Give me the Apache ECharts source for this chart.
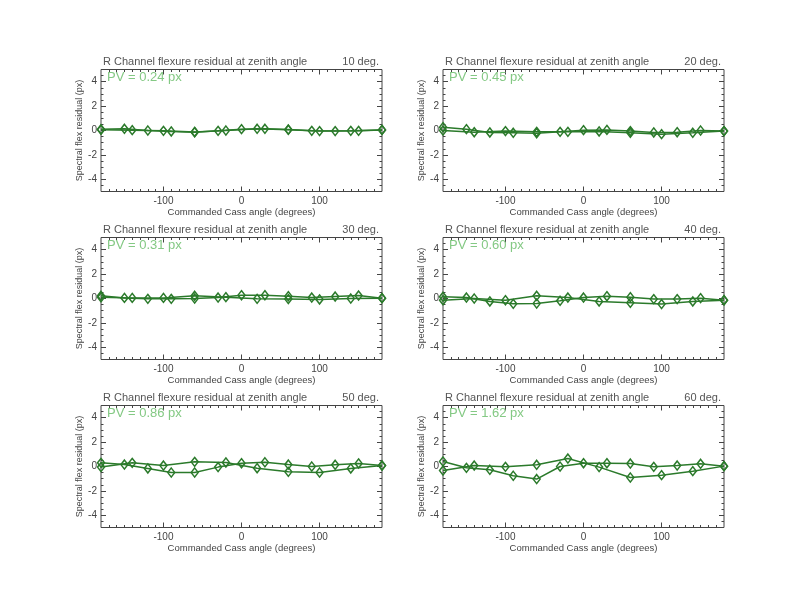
<!DOCTYPE html>
<html lang="en">
<head>
<meta charset="UTF-8" />
<title>R Channel flexure residual</title>
<script src="https://cdn.jsdelivr.net/npm/echarts@6/dist/echarts.min.js"></script>
<style>
  * { margin: 0; padding: 0; }
  body { background: #fff; }
  #chart { width: 792px; height: 612px; }
</style>
</head>
<body>
<div id="chart"></div>
<script>
/* ---------- data ---------- */
// two sweeps of the Cass rotator: 30 deg steps and 40 deg steps
const cassA = [-180, -150, -120, -90, -60, -30, 0, 30, 60, 90, 120, 150, 180];
const cassB = [-180, -140, -100, -60, -20, 20, 60, 100, 140, 180];

const zenith = [10, 20, 30, 40, 50, 60];
const pvText = ["0.24", "0.45", "0.31", "0.60", "0.86", "1.62"];

const z10A = [0.10, 0.14, 0.00, -0.08, -0.14, -0.03, 0.11, 0.14, 0.08, -0.03, -0.05, -0.03, 0.05];
const z10B = [0.06, 0.03, -0.03, -0.12, 0.00, 0.14, 0.06, -0.05, -0.03, 0.05];
const z20A = [0.27, 0.11, -0.16, -0.19, -0.22, -0.11, 0.03, 0.05, -0.05, -0.16, -0.14, 0.00, -0.05];
const z20B = [0.00, -0.14, -0.05, -0.11, -0.11, -0.08, -0.19, -0.30, -0.19, -0.05];
const z30A = [0.22, 0.05, -0.03, -0.03, 0.00, 0.08, 0.27, 0.27, 0.19, 0.08, 0.16, 0.24, 0.03];
const z30B = [0.10, 0.05, 0.05, 0.22, 0.11, -0.03, -0.05, -0.08, 0.00, 0.03];
const z40A = [0.14, 0.08, -0.24, -0.44, -0.41, -0.19, 0.08, 0.19, 0.11, -0.05, -0.05, 0.03, -0.14];
const z40B = [-0.14, 0.00, -0.14, 0.22, 0.08, -0.24, -0.35, -0.46, -0.24, -0.14];
const z50A = [0.30, 0.16, -0.16, -0.49, -0.49, -0.05, 0.27, 0.35, 0.16, 0.00, 0.14, 0.25, 0.08];
const z50B = [-0.05, 0.30, 0.08, 0.38, 0.33, -0.14, -0.44, -0.49, -0.16, 0.08];
const z60A = [0.41, -0.11, -0.27, -0.76, -1.03, 0.00, 0.27, 0.27, 0.24, -0.03, 0.08, 0.22, 0.03];
const z60B = [-0.33, 0.08, -0.03, 0.14, 0.65, -0.05, -0.90, -0.71, -0.38, 0.03];

const sweepA = [z10A, z20A, z30A, z40A, z50A, z60A];
const sweepB = [z10B, z20B, z30B, z40B, z50B, z60B];

const xMajor = [-100, 0, 100];
const yMajor = [-4, -2, 0, 2, 4];

/* ---------- layout ---------- */
const colLeft = [101, 443];
const rowTop = [69.5, 237.5, 405.5];
const plotW = 281, plotH = 122;

const ink = "#444";
const green = "#2b7a2b";
const pvGreen = "#84c984";
const font = "Liberation Sans";

const xMinor = [];
for (let v = -170; v <= 170; v += 10) if (v % 100) xMinor.push(v);
const yMinor = [];
for (let v = -4.5; v <= 4.5; v += 0.5) if (v % 2) yMinor.push(v);

const grids = [], xAxes = [], yAxes = [], series = [], titles = [];

zenith.forEach((z, i) => {
  const left = colLeft[i % 2];
  const top = rowTop[Math.floor(i / 2)];
  grids.push({
    left: left, top: top, width: plotW, height: plotH,
    show: true, borderColor: ink, borderWidth: 1,
  });

  const tickAxis = (dim, pos, vals, len, extra) => Object.assign({
    gridIndex: i, type: "value", position: pos,
    min: dim === "x" ? -180 : -5, max: dim === "x" ? 180 : 5,
    axisLine: { show: false, onZero: false },
    splitLine: { show: false },
    axisTick: { inside: true, length: len, customValues: vals, lineStyle: { color: ink } },
    axisLabel: { show: false },
  }, extra || {});

  const lbl = { fontFamily: font, fontSize: 10, color: ink, margin: 5 };

  xAxes.push(tickAxis("x", "bottom", xMajor, 5, {
    axisLabel: Object.assign({ customValues: xMajor }, lbl),
    name: "Commanded Cass angle (degrees)", nameLocation: "middle", nameGap: 15,
    nameTextStyle: { fontFamily: font, fontSize: 9.5, color: ink },
  }));
  xAxes.push(tickAxis("x", "bottom", xMinor, 2.5));
  xAxes.push(tickAxis("x", "top", xMajor, 5));
  xAxes.push(tickAxis("x", "top", xMinor, 2.5));

  yAxes.push(tickAxis("y", "left", yMajor, 5, {
    axisLabel: Object.assign({ customValues: yMajor }, lbl, { margin: 4 }),
    name: "Spectral flex residual (px)", nameLocation: "middle", nameGap: 16,
    nameTextStyle: { fontFamily: font, fontSize: 9, color: ink },
  }));
  yAxes.push(tickAxis("y", "left", yMinor, 2.5));
  yAxes.push(tickAxis("y", "right", yMajor, 5));
  yAxes.push(tickAxis("y", "right", yMinor, 2.5));

  [[cassA, sweepA[i]], [cassB, sweepB[i]]].forEach(([xs, ys]) => {
    series.push({
      type: "line",
      xAxisIndex: i * 4, yAxisIndex: i * 4,
      data: xs.map((x, j) => [x, ys[j]]),
      symbol: "diamond", symbolSize: [7, 9],
      lineStyle: { color: green, width: 1.5 },
      itemStyle: { color: "rgba(0,0,0,0)", borderColor: green, borderWidth: 1.5 },
      silent: true,
    });
  });

  const tStyle = { fontFamily: font, fontSize: 11, fontWeight: "normal", color: "#555" };
  titles.push({ text: "R Channel flexure residual at zenith angle", left: left + 2, top: top - 13, padding: 0, textStyle: tStyle });
  titles.push({ text: z + " deg.", right: 792 - (left + plotW - 3), top: top - 13, padding: 0, textStyle: tStyle });
  titles.push({
    text: "PV = " + pvText[i] + " px", left: left + 6, top: top + 1, padding: 0,
    textStyle: { fontFamily: font, fontSize: 13, fontWeight: "normal", color: pvGreen },
  });
});

const chart = echarts.init(document.getElementById("chart"), null, { renderer: "canvas" });
chart.setOption({
  backgroundColor: "#fff",
  animation: false,
  title: titles,
  grid: grids,
  xAxis: xAxes,
  yAxis: yAxes,
  series: series,
});
</script>
</body>
</html>
